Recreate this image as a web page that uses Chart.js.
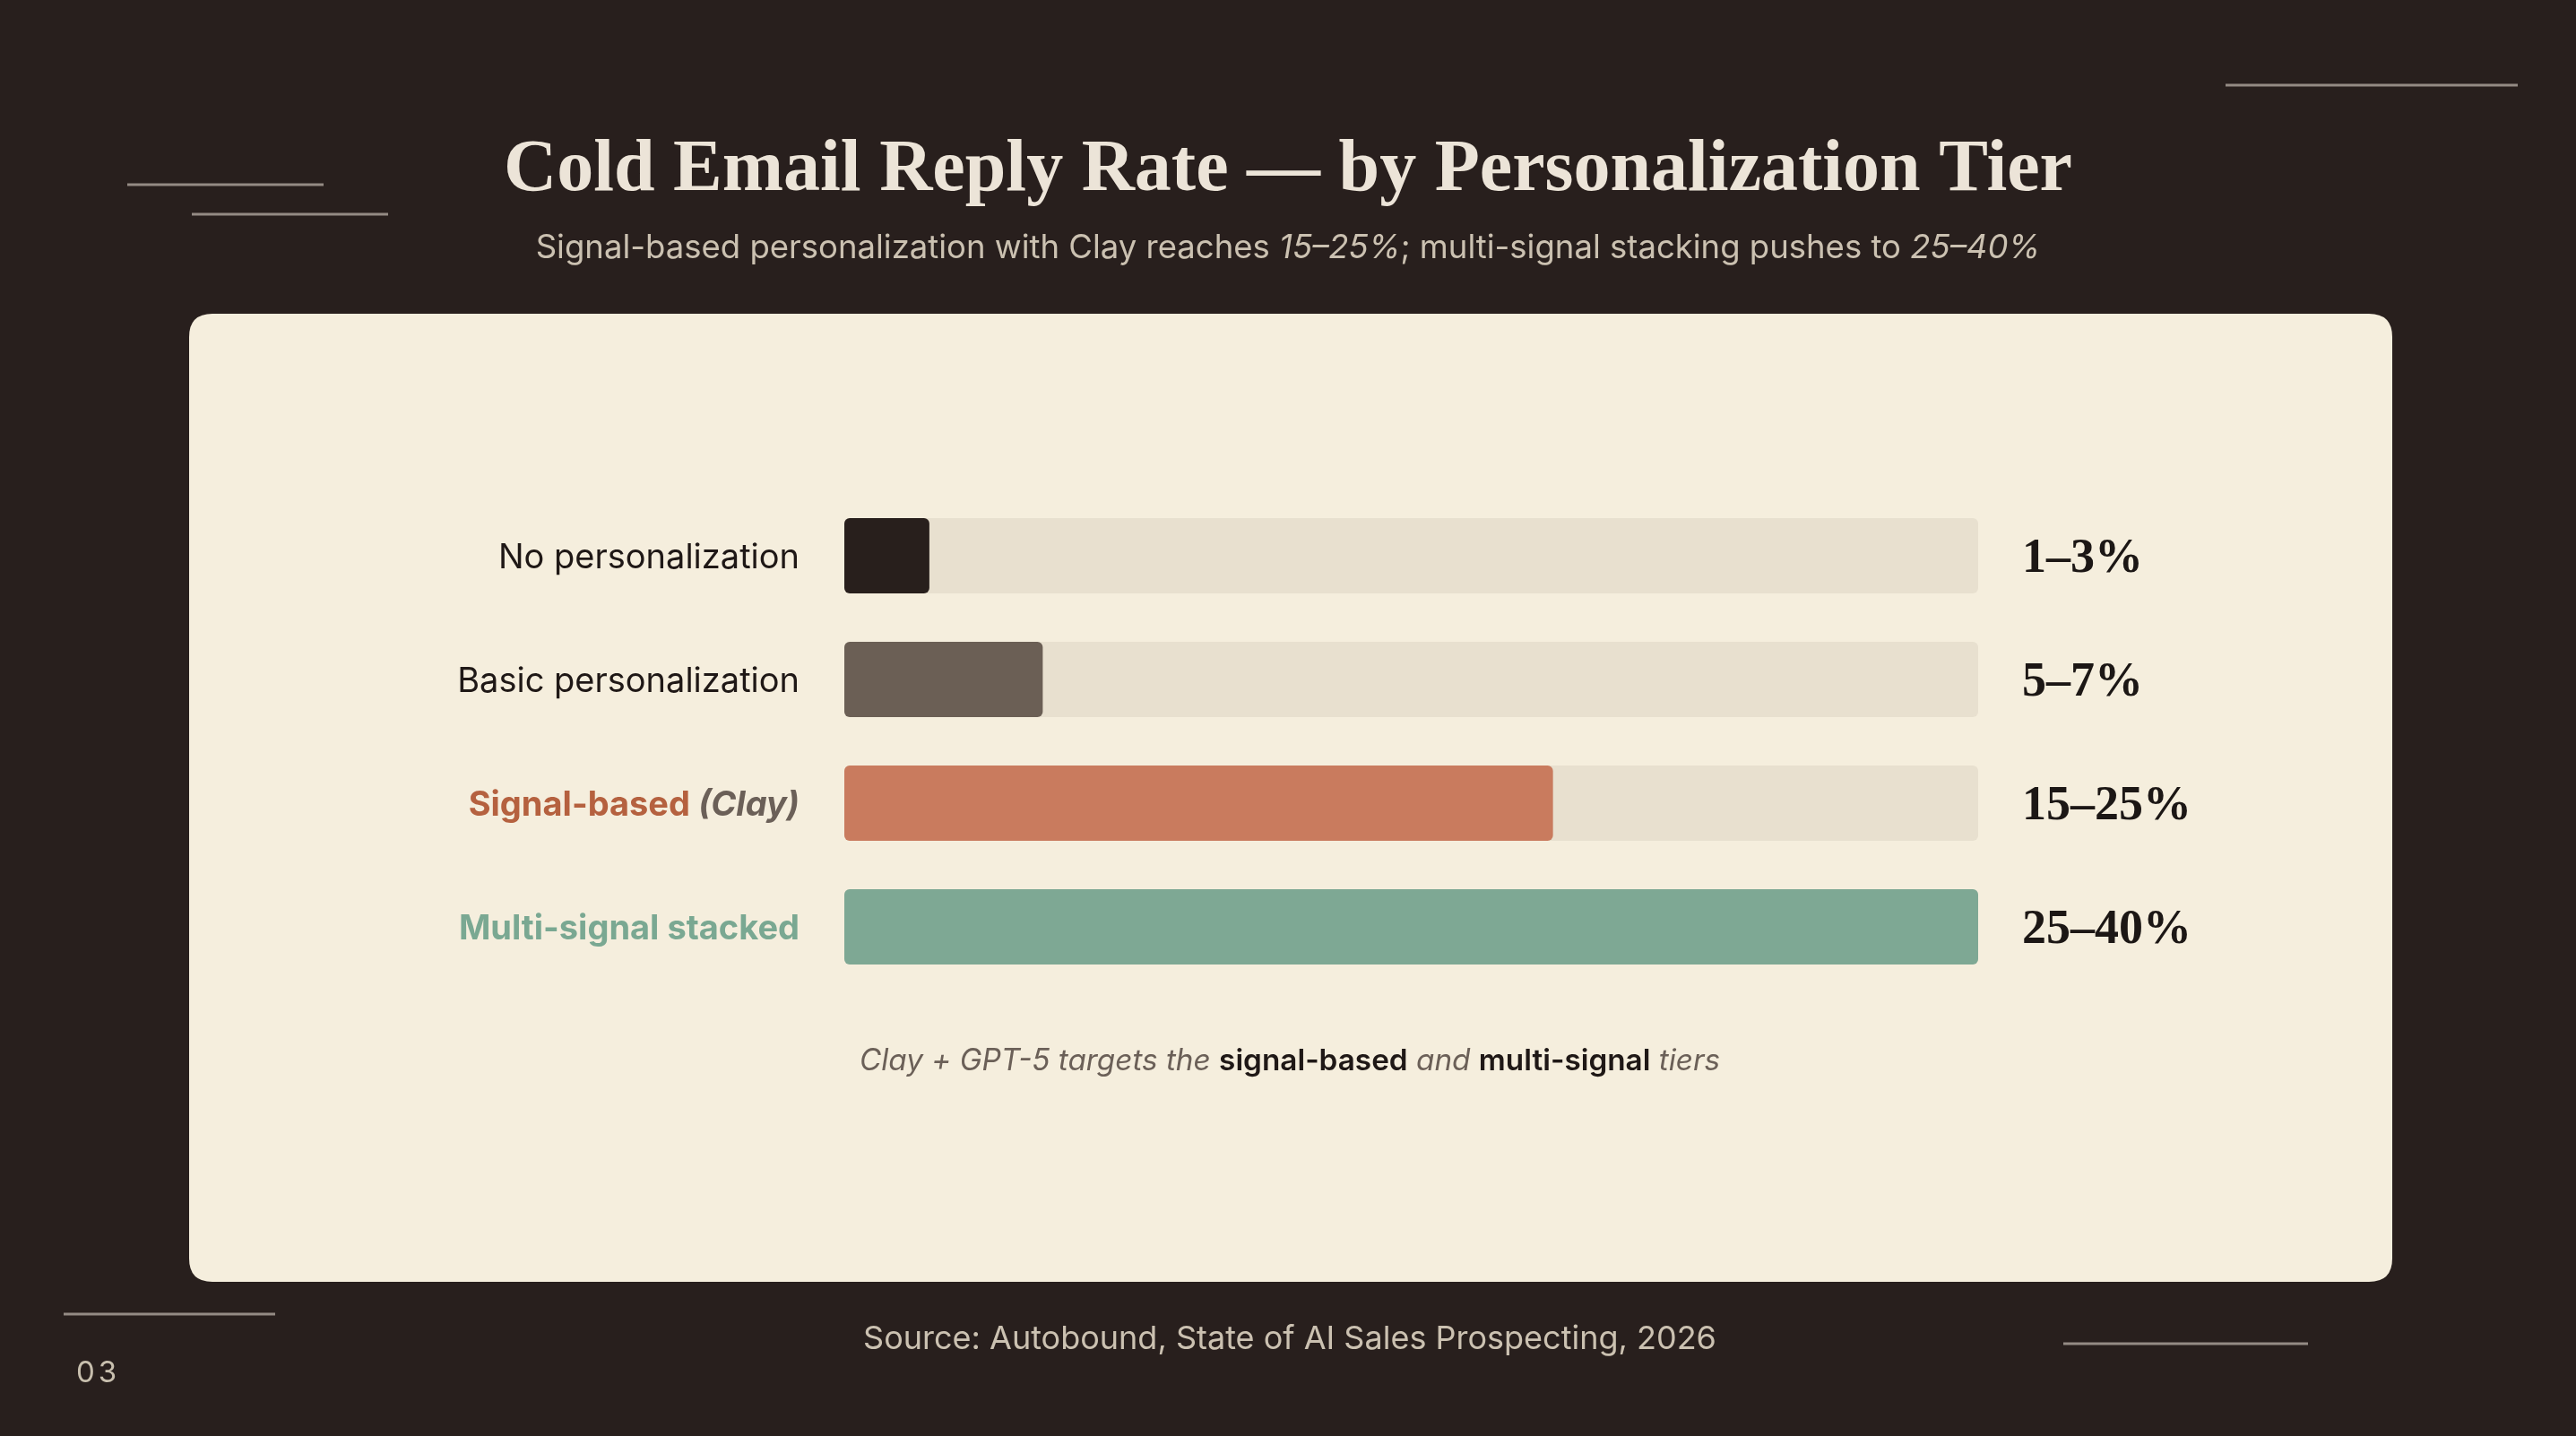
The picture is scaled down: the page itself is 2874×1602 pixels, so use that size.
<!DOCTYPE html>
<html>
<head>
<meta charset="utf-8">
<script src="https://cdn.jsdelivr.net/npm/chart.js@4.4.1/dist/chart.umd.min.js"></script>
<style>
html,body{margin:0;padding:0;background:#281f1d;width:2874px;height:1602px;overflow:hidden;}
canvas{position:absolute;left:0;top:0;}
</style>
</head>
<body>
<canvas id="c" width="2874" height="1602"></canvas>
<script>
// ---- data ----
const categories = ["No personalization", "Basic personalization", "Signal-based (Clay)", "Multi-signal stacked"];
const rateLow = [1, 5, 15, 25];
const rateHigh = [3, 7, 25, 40];
const trackValues = [40, 40, 40, 40];
const scaleMax = 40;

const titleText = "Cold Email Reply Rate \u2014 by Personalization Tier";
const sourceText = "Source: Autobound, State of AI Sales Prospecting, 2026";
const pageNumber = "03";

// ---- styles ----
const BG = "#281f1d";
const CARD = "#f5eedd";
const TRACK = "#e8e0cf";
const barColors = ["#281f1c", "#6b5f55", "#c97b5e", "#7ea894"];
const labelColors = ["#1f1816", "#1f1816", "#b5613f", "#7aa892"];
const labelWeights = ["400", "400", "700", "700"];
const SANS = '"Inter", "Noto Sans", sans-serif';
const SERIF = '"Liberation Serif", "DejaVu Serif", serif';

function rr(ctx, x, y, w, h, r) {
  ctx.beginPath();
  ctx.moveTo(x + r, y);
  ctx.lineTo(x + w - r, y);
  ctx.quadraticCurveTo(x + w, y, x + w, y + r);
  ctx.lineTo(x + w, y + h - r);
  ctx.quadraticCurveTo(x + w, y + h, x + w - r, y + h);
  ctx.lineTo(x + r, y + h);
  ctx.quadraticCurveTo(x, y + h, x, y + h - r);
  ctx.lineTo(x, y + r);
  ctx.quadraticCurveTo(x, y, x + r, y);
  ctx.closePath();
}

function drawSegments(ctx, segs, x, y, align) {
  let total = 0;
  segs.forEach(s => { ctx.font = s.font; total += ctx.measureText(s.text).width; });
  let cx = align === "center" ? x - total / 2 : (align === "right" ? x - total : x);
  ctx.textAlign = "left";
  ctx.textBaseline = "alphabetic";
  segs.forEach(s => {
    ctx.font = s.font; ctx.fillStyle = s.color;
    ctx.fillText(s.text, cx, y);
    cx += ctx.measureText(s.text).width;
  });
}

const decor = {
  id: "decor",
  beforeDraw(chart) {
    const ctx = chart.ctx;
    ctx.save();
    ctx.fillStyle = BG;
    ctx.fillRect(0, 0, chart.width, chart.height);
    // decorative lines
    ctx.strokeStyle = "rgba(236,228,216,0.55)";
    ctx.lineWidth = 3;
    [[142, 361, 206], [214, 433, 239], [2483, 2809, 95], [71, 307, 1466], [2302, 2575, 1499]].forEach(l => {
      ctx.beginPath(); ctx.moveTo(l[0], l[2]); ctx.lineTo(l[1], l[2]); ctx.stroke();
    });
    // title
    ctx.fillStyle = "#ece4d8";
    ctx.font = "bold 82px " + SERIF;
    ctx.textAlign = "center";
    ctx.textBaseline = "alphabetic";
    ctx.fillText(titleText, 1437, 212);
    // subtitle
    const sc = "#cbc1b1";
    const sf = 36.5;
    drawSegments(ctx, [
      {text: "Signal-based personalization with Clay reaches ", font: "400 " + sf + "px " + SANS, color: sc},
      {text: "15\u201325%", font: "italic 400 " + sf + "px " + SANS, color: sc},
      {text: "; multi-signal stacking pushes to ", font: "400 " + sf + "px " + SANS, color: sc},
      {text: "25\u201340%", font: "italic 400 " + sf + "px " + SANS, color: sc}
    ], 1437, 288, "center");
    // card
    ctx.fillStyle = CARD;
    rr(ctx, 211, 350, 2458, 1080, 26);
    ctx.fill();
    // note
    const nc = "#6b6058", nb = "#1f1816", nf = 33.3;
    drawSegments(ctx, [
      {text: "Clay + GPT-5 targets the ", font: "italic 400 " + nf + "px " + SANS, color: nc},
      {text: "signal-based", font: "600 " + nf + "px " + SANS, color: nb},
      {text: " and ", font: "italic 400 " + nf + "px " + SANS, color: nc},
      {text: "multi-signal", font: "600 " + nf + "px " + SANS, color: nb},
      {text: " tiers", font: "italic 400 " + nf + "px " + SANS, color: nc}
    ], 1439, 1194, "center");
    // source
    ctx.fillStyle = "#cbc1b1";
    ctx.font = "400 36px " + SANS;
    ctx.textAlign = "center";
    ctx.fillText(sourceText, 1439, 1505);
    // page number
    ctx.fillStyle = "#c8bfae";
    ctx.font = "400 33px " + SANS;
    ctx.textAlign = "left";
    if ("letterSpacing" in ctx) ctx.letterSpacing = "4px";
    ctx.fillText(pageNumber, 85, 1542);
    if ("letterSpacing" in ctx) ctx.letterSpacing = "0px";
    ctx.restore();
  },
  afterDatasetsDraw(chart) {
    const ctx = chart.ctx;
    const y = chart.scales.y, x = chart.scales.x;
    ctx.save();
    categories.forEach((cat, i) => {
      const cy = y.getPixelForValue(i);
      // category label
      const fs = 38;
      const base = cy + fs * 0.727 / 2;
      const m = cat.match(/^(.*?)\s*(\(.*\))$/);
      if (m) {
        drawSegments(ctx, [
          {text: m[1] + " ", font: labelWeights[i] + " " + fs + "px " + SANS, color: labelColors[i]},
          {text: m[2], font: "italic " + labelWeights[i] + " " + fs + "px " + SANS, color: "#6b6058"}
        ], x.left - 50, base, "right");
      } else {
        drawSegments(ctx, [
          {text: cat, font: labelWeights[i] + " " + fs + "px " + SANS, color: labelColors[i]}
        ], x.left - 50, base, "right");
      }
      // value label
      const vs = 54;
      ctx.font = "bold " + vs + "px " + SERIF;
      ctx.fillStyle = "#1c1715";
      ctx.textAlign = "left";
      ctx.textBaseline = "alphabetic";
      ctx.fillText(rateLow[i] + "\u2013" + rateHigh[i] + "%", x.getPixelForValue(scaleMax) + 49, cy + vs * 0.662 / 2);
    });
    ctx.restore();
  }
};

function build() {
  new Chart(document.getElementById("c"), {
    type: "bar",
    data: {
      labels: categories,
      datasets: [
        {data: rateHigh, backgroundColor: barColors, borderRadius: 6, borderSkipped: false,
         order: 1, grouped: false, barPercentage: 0.61, categoryPercentage: 1},
        {data: trackValues, backgroundColor: TRACK, borderRadius: 6, borderSkipped: false,
         order: 2, grouped: false, barPercentage: 0.61, categoryPercentage: 1}
      ]
    },
    options: {
      indexAxis: "y",
      responsive: false,
      animation: false,
      devicePixelRatio: 1,
      layout: {padding: {left: 942, right: 667, top: 551, bottom: 499}},
      scales: {
        x: {display: false, min: 0, max: scaleMax},
        y: {display: false}
      },
      plugins: {legend: {display: false}, tooltip: {enabled: false}}
    },
    plugins: [decor]
  });
}

const loads = [
  'bold 82px "Liberation Serif"', '400 35px "Inter"', 'italic 400 35px "Inter"',
  '600 35px "Inter"', '700 35px "Inter"', 'italic 700 35px "Inter"'
].map(f => document.fonts.load(f).catch(() => null));
Promise.all(loads).then(build, build);
</script>
</body>
</html>
